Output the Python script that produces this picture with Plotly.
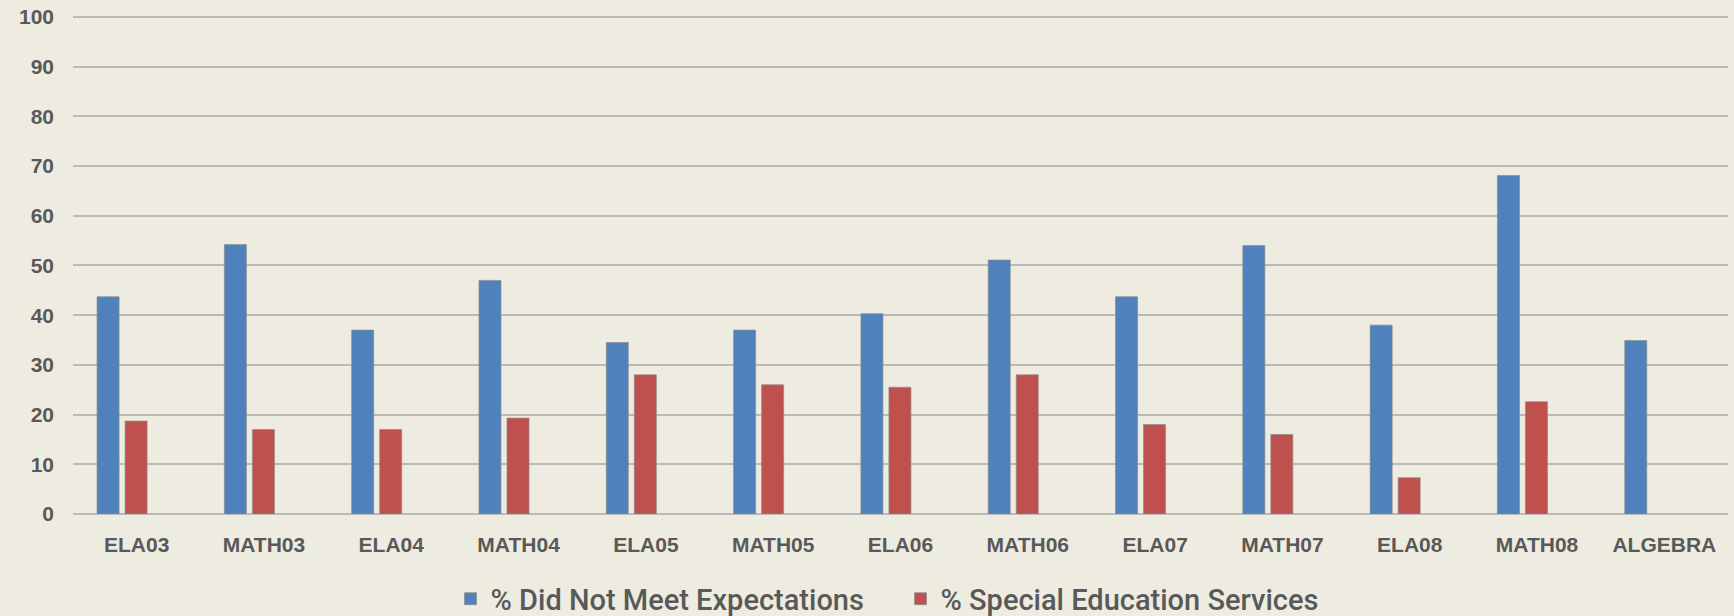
import plotly.graph_objects as go

# dane
kategorie = ["ELA03", "MATH03", "ELA04", "MATH04", "ELA05", "MATH05", "ELA06",
             "MATH06", "ELA07", "MATH07", "ELA08", "MATH08", "ALGEBRA"]
nie_spelnia = [43.7, 54.2, 37.0, 47.0, 34.5, 37.0, 40.3, 51.1, 43.7, 54.0, 38.0, 68.1, 34.9]
edukacja_specjalna = [18.7, 17.0, 17.0, 19.3, 28.0, 26.0, 25.5, 28.0, 18.0, 16.0, 7.3, 22.6, None]
nazwy_serii = ["% Did Not Meet Expectations", "% Special Education Services"]
y_ticks = list(range(0, 101, 10))

TLO = "#EEECE1"
SZARY = "#595959"
OBRYS = dict(color="rgba(140,140,140,0.7)", width=1)

fig = go.Figure()

fig.add_trace(go.Bar(
    x=kategorie,
    y=nie_spelnia,
    name=nazwy_serii[0],
    marker=dict(color="#4F81BD", line=OBRYS),
    width=0.173,
    offset=-0.311,
))
fig.add_trace(go.Bar(
    x=kategorie,
    y=edukacja_specjalna,
    name=nazwy_serii[1],
    marker=dict(color="#C0504D", line=OBRYS),
    width=0.173,
    offset=-0.091,
))

fig.update_layout(
    width=1734,
    height=616,
    paper_bgcolor=TLO,
    plot_bgcolor=TLO,
    barmode="overlay",
    margin=dict(l=73, r=6, t=15, b=102, autoexpand=False),
    font=dict(family="Liberation Sans, Arial, sans-serif", color=SZARY),
    xaxis=dict(
        showgrid=False,
        showline=False,
        ticks="",
        tickfont=dict(size=21, color=SZARY, weight="bold"),
        ticklabelstandoff=16,
    ),
    yaxis=dict(
        range=[0, 100.4],
        tickvals=y_ticks,
        showgrid=True,
        gridcolor="#BABABA",
        gridwidth=2,
        zeroline=True,
        zerolinecolor="#BABABA",
        zerolinewidth=2,
        ticks="",
        tickfont=dict(size=21, color=SZARY, weight="bold"),
        ticklabelstandoff=18,
    ),
    legend=dict(
        orientation="h",
        x=0.5,
        xanchor="center",
        y=-0.17,
        yanchor="middle",
        font=dict(family="Roboto, DejaVu Sans Condensed, sans-serif",
                  size=29, color=SZARY, weight=500),
        itemwidth=30,
        entrywidth=405,
    ),
    showlegend=True,
)

fig.write_html("out.html", config={"displayModeBar": False},
               post_script="document.body.style.margin='0';")
